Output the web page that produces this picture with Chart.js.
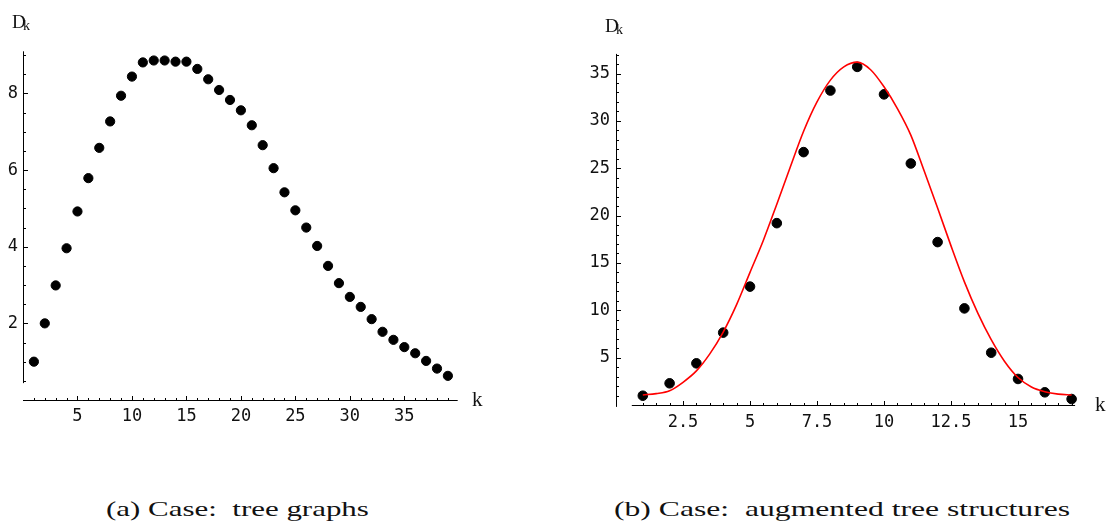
<!DOCTYPE html>
<html>
<head>
<meta charset="utf-8">
<script src="https://cdn.jsdelivr.net/npm/chart.js@4/dist/chart.umd.min.js"></script>
<style>
  body { margin: 0; width: 1111px; height: 522px; background: #fff; position: relative; overflow: hidden; }
  canvas { position: absolute; top: 0; }
  .lab { position: absolute; font-family: "Liberation Serif", serif; color: #111; line-height: 1; white-space: nowrap; }
  .cap { position: absolute; font-family: "Liberation Serif", serif; font-size: 22px; color: #111; line-height: 1; white-space: nowrap; transform-origin: left center; }
</style>
</head>
<body>
<canvas id="treeChart" width="540" height="460" style="left:0"></canvas>
<canvas id="augChart" width="556" height="460" style="left:555px"></canvas>

<div class="lab" style="left:12px;top:12px;font-size:19px">D</div>
<div class="lab" style="left:23px;top:19px;font-size:14px">k</div>
<div class="lab" style="left:472px;top:389px;font-size:21px">k</div>

<div class="lab" style="left:605px;top:16px;font-size:19px">D</div>
<div class="lab" style="left:616px;top:23px;font-size:14px">k</div>
<div class="lab" style="left:1095px;top:394px;font-size:21px">k</div>

<div class="cap" id="capA" style="left:106px;top:498px">(a) Case:&nbsp; tree graphs</div>
<div class="cap" id="capB" style="left:614px;top:498px">(b) Case:&nbsp; augmented tree structures</div>

<script>
// (a) tree graphs: D_k for k = 1..39
const treeK = Array.from({ length: 39 }, (_, i) => i + 1);
const treeD = [1.0, 2.0, 2.99, 3.96, 4.92, 5.79, 6.58, 7.27, 7.94, 8.44,
  8.81, 8.86, 8.86, 8.83, 8.83, 8.64, 8.37, 8.09, 7.83, 7.56,
  7.17, 6.65, 6.05, 5.42, 4.95, 4.50, 4.02, 3.50, 3.05, 2.69,
  2.43, 2.11, 1.78, 1.57, 1.38, 1.22, 1.02, 0.82, 0.63];
const treeXTicks = [5, 10, 15, 20, 25, 30, 35];
const treeYTicks = [2, 4, 6, 8];

// (b) augmented tree structures: D_k for k = 1..17, plus the red fitted curve
const augK = Array.from({ length: 17 }, (_, i) => i + 1);
const augD = [0.98, 2.29, 4.40, 7.64, 12.5, 19.2, 26.7, 33.2, 35.7, 32.8,
  25.5, 17.2, 10.2, 5.52, 2.75, 1.34, 0.63];
const fitK = [1, 1.5, 2, 2.5, 3, 3.5, 4, 4.5, 5, 5.5, 6, 6.5, 7, 7.5, 8, 8.5, 9,
  9.5, 10, 10.5, 11, 11.5, 12, 12.5, 13, 13.5, 14, 14.5, 15, 15.5, 16, 16.5, 17];
const fitD = [1.06, 1.2, 1.5, 2.4, 3.6, 5.4, 7.7, 10.6, 14.0, 17.4, 21.2, 25.1, 28.9, 32.0, 34.3, 35.7, 36.2,
  35.4, 33.6, 31.3, 28.5, 24.7, 20.8, 16.8, 13.0, 9.7, 6.9, 4.6, 2.9, 1.9, 1.4, 1.15, 1.05];
const augXTicks = [2.5, 5, 7.5, 10, 12.5, 15];
const augYTicks = [5, 10, 15, 20, 25, 30, 35];

const tickFont = { family: 'DejaVu Sans Mono', size: 17 };

// Mathematica-style axes: thin lines crossing at the origin, inward major/minor ticks
const mathAxes = {
  id: 'mathAxes',
  beforeDatasetsDraw(chart, args, o) {
    const ctx = chart.ctx, xs = chart.scales.x, ys = chart.scales.y;
    const x0 = Math.round(xs.getPixelForValue(0)) + 0.5;
    const y0 = Math.round(ys.getPixelForValue(0)) + 0.5;
    ctx.save();
    ctx.strokeStyle = '#000';
    ctx.lineWidth = 1;
    ctx.beginPath();
    ctx.moveTo(xs.getPixelForValue(o.xFrom), y0);
    ctx.lineTo(xs.getPixelForValue(o.xTo), y0);
    ctx.moveTo(x0, ys.getPixelForValue(o.yFrom));
    ctx.lineTo(x0, ys.getPixelForValue(o.yTo));
    const nx = Math.round((o.xTickEnd - o.xTickStart) / o.xMinor);
    for (let i = 0; i <= nx; i++) {
      const v = o.xTickStart + i * o.xMinor;
      const major = Math.abs(v / o.xMajor - Math.round(v / o.xMajor)) < 1e-6;
      const px = Math.round(xs.getPixelForValue(v)) + 0.5;
      ctx.moveTo(px, y0);
      ctx.lineTo(px, y0 - (major ? 4.5 : 2.5));
    }
    const ny = Math.round((o.yTickEnd - o.yTickStart) / o.yMinor);
    for (let i = 0; i <= ny; i++) {
      const v = o.yTickStart + i * o.yMinor;
      const major = Math.abs(v / o.yMajor - Math.round(v / o.yMajor)) < 1e-6;
      const py = Math.round(ys.getPixelForValue(v)) + 0.5;
      ctx.moveTo(x0, py);
      ctx.lineTo(x0 + (major ? 4.5 : 2.5), py);
    }
    ctx.stroke();
    ctx.restore();
  }
};

function axis(min, max, values, pad, size, horizontal) {
  return {
    type: 'linear', min: min, max: max,
    grid: { display: false, drawTicks: false },
    border: { display: false },
    afterBuildTicks: s => { s.ticks = values.map(v => ({ value: v })); },
    afterFit: s => { if (horizontal) s.height = size; else s.width = size; },
    ticks: { font: tickFont, color: '#111', padding: pad, autoSkip: false, maxRotation: 0,
             callback: v => String(v) }
  };
}

new Chart(document.getElementById('treeChart'), {
  type: 'scatter',
  data: {
    datasets: [{
      data: treeK.map((k, i) => ({ x: k, y: treeD[i] })),
      backgroundColor: '#000', borderColor: '#000',
      pointRadius: 4.6, pointHoverRadius: 4.6, clip: false
    }]
  },
  options: {
    responsive: false, animation: false, events: [],
    layout: { padding: { left: 1, right: 82.3, top: 51.3, bottom: 30 } },
    plugins: {
      legend: { display: false }, tooltip: { enabled: false },
      mathAxes: { xFrom: 0, xTo: 39.9, yFrom: 0.44, yTo: 9.1,
        xTickStart: 1, xTickEnd: 39, xMinor: 1, xMajor: 5,
        yTickStart: 0.5, yTickEnd: 9, yMinor: 0.5, yMajor: 2 }
    },
    scales: {
      x: axis(0, 39.9, treeXTicks, 6, 30, true),
      y: axis(0, 9.1, treeYTicks, 5, 22, false)
    }
  },
  plugins: [mathAxes]
});

new Chart(document.getElementById('augChart'), {
  type: 'scatter',
  data: {
    datasets: [{
      type: 'line',
      data: fitK.map((k, i) => ({ x: k, y: fitD[i] })),
      borderColor: '#ff0000', borderWidth: 1.6, pointRadius: 0,
      cubicInterpolationMode: 'monotone', fill: false, clip: false
    }, {
      data: augK.map((k, i) => ({ x: k, y: augD[i] })),
      backgroundColor: '#000', borderColor: '#000',
      pointRadius: 4.8, pointHoverRadius: 4.8, clip: false
    }]
  },
  options: {
    responsive: false, animation: false, events: [],
    layout: { padding: { left: 1, right: 35.9, top: 53.9, bottom: 25 } },
    plugins: {
      legend: { display: false }, tooltip: { enabled: false },
      mathAxes: { xFrom: 0.59, xTo: 17.13, yFrom: -0.2, yTo: 37.07,
        xTickStart: 1, xTickEnd: 17, xMinor: 0.5, xMajor: 2.5,
        yTickStart: 1, yTickEnd: 37, yMinor: 1, yMajor: 5 }
    },
    scales: {
      x: axis(0, 17.13, augXTicks, 7, 30, true),
      y: axis(0, 37.07, augYTicks, 6, 60, false)
    }
  },
  plugins: [mathAxes]
});

// stretch the captions to the width they have in the figure
[['capA', 263], ['capB', 456]].forEach(([id, w]) => {
  const el = document.getElementById(id);
  el.style.transform = 'scaleX(' + (w / el.offsetWidth) + ')';
});
</script>
</body>
</html>
